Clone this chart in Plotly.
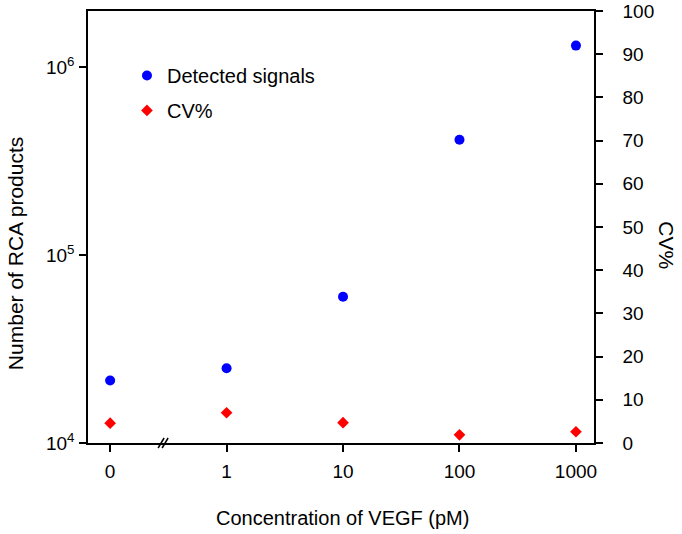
import plotly.graph_objects as go

# ---- data ----
conc_labels = ["0", "1", "10", "100", "1000"]
detected_signals = [2.15e4, 2.5e4, 6.0e4, 4.1e5, 1.3e6]
cv_percent = [4.6, 7.0, 4.7, 1.9, 2.6]
left_tick_vals = [1e4, 1e5, 1e6]
left_tick_text = ["10<sup>4</sup>", "10<sup>5</sup>", "10<sup>6</sup>"]
right_tick_vals = list(range(0, 101, 10))

xpos = list(range(len(conc_labels)))
FONT = "Arial, Liberation Sans, Helvetica, sans-serif"

fig = go.Figure()
fig.add_trace(go.Scatter(
    x=xpos, y=detected_signals, mode="markers", name="Detected signals",
    marker=dict(symbol="circle", size=10, color="#0000ff"),
    legendgroup="a", yaxis="y"))
fig.add_trace(go.Scatter(
    x=xpos, y=cv_percent, mode="markers", name="CV%",
    marker=dict(symbol="diamond", size=9, color="#ff0000"),
    legendgroup="b", yaxis="y2"))

axis_common = dict(showline=True, linecolor="black", linewidth=1.5,
                   ticks="outside", ticklen=7, tickwidth=1.5, tickcolor="black",
                   showgrid=False, zeroline=False, automargin=False,
                   ticklabeloverflow="allow",
                   tickfont=dict(family=FONT, size=19, color="black"))

fig.update_layout(
    width=682, height=534,
    margin=dict(l=88, r=88, t=11, b=91),
    paper_bgcolor="white", plot_bgcolor="white",
    font=dict(family=FONT, size=19, color="black"),
    xaxis=dict(range=[-0.19, 4.155], tickvals=xpos, ticktext=conc_labels,
               mirror=True, ticklabelstandoff=3, **axis_common),
    yaxis=dict(type="log", range=[4, 6.298], tickvals=left_tick_vals,
               ticktext=left_tick_text, ticklabelstandoff=1, **axis_common),
    yaxis2=dict(overlaying="y", side="right", range=[0, 100],
                tickvals=right_tick_vals, ticklabelstandoff=16, **axis_common),
    showlegend=True,
    legend=dict(x=0.077, y=0.896, xanchor="left", yanchor="top",
                font=dict(family=FONT, size=20), itemwidth=30,
                tracegroupgap=6, bgcolor="rgba(0,0,0,0)"),
    annotations=[
        dict(text="Concentration of VEGF (pM)", xref="paper", yref="paper",
             x=0.503, y=-0.174, xanchor="center", yanchor="middle",
             showarrow=False, font=dict(size=20)),
        dict(text="Number of RCA products", xref="paper", yref="paper",
             x=-0.144, y=0.4375, xanchor="center", yanchor="middle",
             textangle=-90, showarrow=False, font=dict(size=21)),
        dict(text="CV%", xref="paper", yref="paper",
             x=1.144, y=0.458, xanchor="center", yanchor="middle",
             textangle=90, showarrow=False, font=dict(size=21)),
    ],
    shapes=[
        dict(type="line", xref="x", yref="paper", xsizemode="pixel", ysizemode="pixel",
             xanchor=0.455, yanchor=0, x0=-5, x1=1, y0=-5, y1=5,
             line=dict(color="black", width=1.5)),
        dict(type="line", xref="x", yref="paper", xsizemode="pixel", ysizemode="pixel",
             xanchor=0.455, yanchor=0, x0=-1, x1=5, y0=-5, y1=5,
             line=dict(color="black", width=1.5)),
    ],
)

fig.write_html("out.html", config={"displayModeBar": False},
               post_script="document.body.style.margin='0';document.body.style.overflow='hidden';")
